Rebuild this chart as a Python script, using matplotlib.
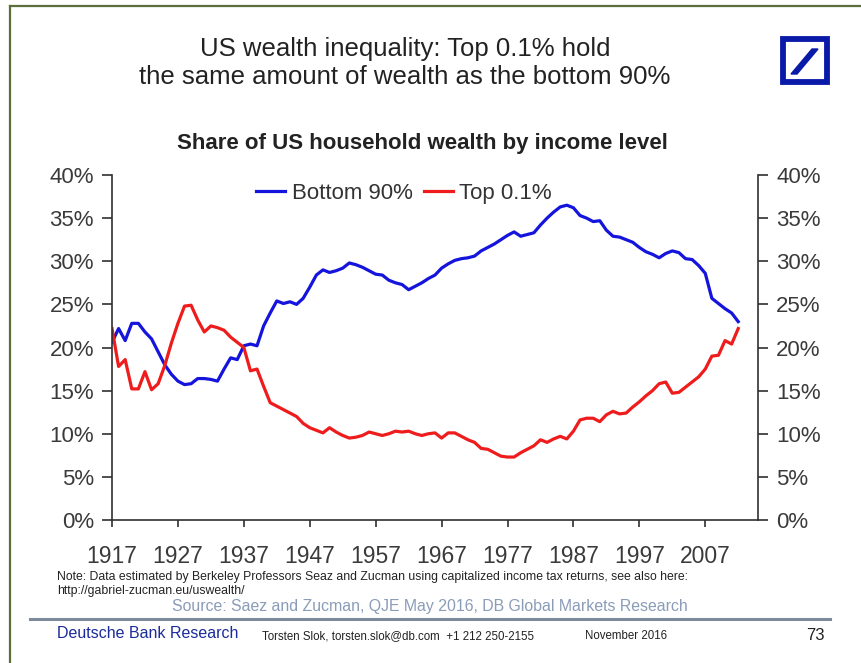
import matplotlib
matplotlib.use('Agg')
import matplotlib.pyplot as plt
from matplotlib.lines import Line2D
from matplotlib.patches import Rectangle, Polygon
from matplotlib.ticker import FuncFormatter

plt.rcParams['font.family'] = ['Liberation Sans', 'DejaVu Sans']

# yearly shares of US household wealth (percent)
years = list(range(1917, 2013))

bottom_90 = [
    20.6, 22.2, 20.8, 22.8, 22.8, 21.8, 21.0, 19.5, 18.0, 16.9,   # 1917-1926
    16.1, 15.7, 15.8, 16.4, 16.4, 16.3, 16.1, 17.5, 18.8, 18.6,   # 1927-1936
    20.2, 20.4, 20.2, 22.5, 24.0, 25.4, 25.1, 25.3, 25.0, 25.7,   # 1937-1946
    27.0, 28.4, 29.0, 28.7, 28.9, 29.2, 29.8, 29.6, 29.3, 28.9,   # 1947-1956
    28.5, 28.4, 27.8, 27.5, 27.3, 26.7, 27.1, 27.5, 28.0, 28.4,   # 1957-1966
    29.2, 29.7, 30.1, 30.3, 30.4, 30.6, 31.2, 31.6, 32.0, 32.5,   # 1967-1976
    33.0, 33.4, 32.9, 33.1, 33.3, 34.2, 35.0, 35.7, 36.3, 36.5,   # 1977-1986
    36.2, 35.3, 35.0, 34.6, 34.7, 33.6, 32.9, 32.8, 32.5, 32.2,   # 1987-1996
    31.6, 31.1, 30.8, 30.4, 30.9, 31.2, 31.0, 30.3, 30.2, 29.5,   # 1997-2006
    28.6, 25.7, 25.1, 24.5, 24.0, 23.0,                           # 2007-2012
]

top_01 = [
    22.2, 17.8, 18.6, 15.2, 15.2, 17.2, 15.1, 15.8, 17.9, 20.5,   # 1917-1926
    22.8, 24.8, 24.9, 23.2, 21.8, 22.5, 22.3, 22.0, 21.2, 20.6,   # 1927-1936
    20.0, 17.3, 17.5, 15.5, 13.6, 13.2, 12.8, 12.4, 12.0, 11.2,   # 1937-1946
    10.7, 10.4, 10.1, 10.7, 10.2, 9.8, 9.5, 9.6, 9.8, 10.2,       # 1947-1956
    10.0, 9.8, 10.0, 10.3, 10.2, 10.3, 10.0, 9.8, 10.0, 10.1,     # 1957-1966
    9.5, 10.1, 10.1, 9.7, 9.3, 9.0, 8.3, 8.2, 7.8, 7.4,           # 1967-1976
    7.3, 7.3, 7.8, 8.2, 8.6, 9.3, 9.0, 9.4, 9.7, 9.4,             # 1977-1986
    10.3, 11.6, 11.8, 11.8, 11.4, 12.2, 12.6, 12.3, 12.4, 13.1,   # 1987-1996
    13.7, 14.4, 15.0, 15.8, 16.0, 14.7, 14.8, 15.4, 16.0, 16.6,   # 1997-2006
    17.5, 19.0, 19.1, 20.8, 20.4, 22.2,                           # 2007-2012
]

x_ticks = list(range(1917, 2008, 10))
y_ticks = [0, 5, 10, 15, 20, 25, 30, 35, 40]

W, H = 862, 663


def fx(px):
    return px / W


def fy(py):
    return 1 - py / H


fig = plt.figure(figsize=(8.62, 6.63), dpi=100)
fig.patch.set_facecolor('white')

ax = fig.add_axes([fx(112), fy(520), fx(758) - fx(112), fy(175) - fy(520)])
ax.plot(years, bottom_90, color='#1414dc', lw=2.3, label='Bottom 90%')
ax.plot(years, top_01, color='#ee1c1c', lw=2.3, label='Top 0.1%')

ax.set_xlim(1917, 2015)
ax.set_ylim(0, 40)
ax.set_xticks(x_ticks)
ax.set_yticks(y_ticks)
ax.yaxis.set_major_formatter(FuncFormatter(lambda v, p: f'{v:.0f}%'))

ax.spines['top'].set_visible(False)
for side in ['left', 'right', 'bottom']:
    ax.spines[side].set_color('#303030')
    ax.spines[side].set_linewidth(1.2)

ax.tick_params(axis='y', which='both', direction='out', length=7, width=1.2,
               color='#303030', labelsize=16, labelcolor='#3a3a3a',
               right=True, labelright=True, pad=6)
ax.tick_params(axis='x', direction='out', length=5, width=1.2,
               color='#303030', labelsize=16.5, labelcolor='#3a3a3a', pad=13)

leg = ax.legend(loc='upper center', bbox_to_anchor=(0.452, 1.035), ncol=2,
                frameon=False, fontsize=16, handlelength=1.3,
                handletextpad=0.3, columnspacing=0.5)
for t in leg.get_texts():
    t.set_color('#333333')

# titles
fig.text(fx(405), fy(63), 'US wealth inequality: Top 0.1% hold\n'
         'the same amount of wealth as the bottom 90%',
         ha='center', va='center', fontsize=18.5, color='#222222', linespacing=1.17)
fig.text(fx(422), fy(143), 'Share of US household wealth by income level',
         ha='center', va='center', fontsize=16, fontweight='bold', color='#222222')

# notes and footer
fig.text(fx(57), fy(577), 'Note: Data estimated by Berkeley Professors Seaz and Zucman '
         'using capitalized income tax returns, see also here:',
         ha='left', va='center', fontsize=8.8, color='#222222')
fig.text(fx(57), fy(591), 'http://gabriel-zucman.eu/uswealth/',
         ha='left', va='center', fontsize=8.8, color='#222222')
fig.text(fx(430), fy(607), 'Source: Saez and Zucman, QJE May 2016, DB Global Markets Research',
         ha='center', va='center', fontsize=11.4, color='#8a9cb8')
fig.add_artist(Line2D([fx(30), fx(830)], [fy(619), fy(619)], color='#7d8a99', lw=2.2))
fig.text(fx(57), fy(634), 'Deutsche Bank Research',
         ha='left', va='center', fontsize=11.5, color='#1c2b9c')
fig.text(fx(262), fy(636), 'Torsten Slok, torsten.slok@db.com  +1 212 250-2155',
         ha='left', va='center', fontsize=8.3, color='#222222')
fig.text(fx(585), fy(636), 'November 2016',
         ha='left', va='center', fontsize=8.3, color='#222222')
fig.text(fx(825), fy(636), '73', ha='right', va='center', fontsize=12, color='#222222')

# page frame
fig.add_artist(Line2D([fx(10), 1], [fy(6), fy(6)], color='#5b6e3c', lw=1.6))
fig.add_artist(Line2D([fx(10), fx(10)], [fy(6), 0], color='#5b6e3c', lw=1.6))

# logo
logo_blue = '#0a1aa8'
fig.add_artist(Rectangle((fx(783), fy(82)), fx(827) - fx(783), fy(39) - fy(82),
                         transform=fig.transFigure, fill=False,
                         edgecolor=logo_blue, lw=4.2))
fig.add_artist(Polygon([(fx(791), fy(74)), (fx(797), fy(74)),
                        (fx(818), fy(49)), (fx(812), fy(49))],
                       closed=True, transform=fig.transFigure,
                       facecolor=logo_blue, edgecolor=logo_blue))

plt.savefig('out.png', dpi=100)
plt.close()
